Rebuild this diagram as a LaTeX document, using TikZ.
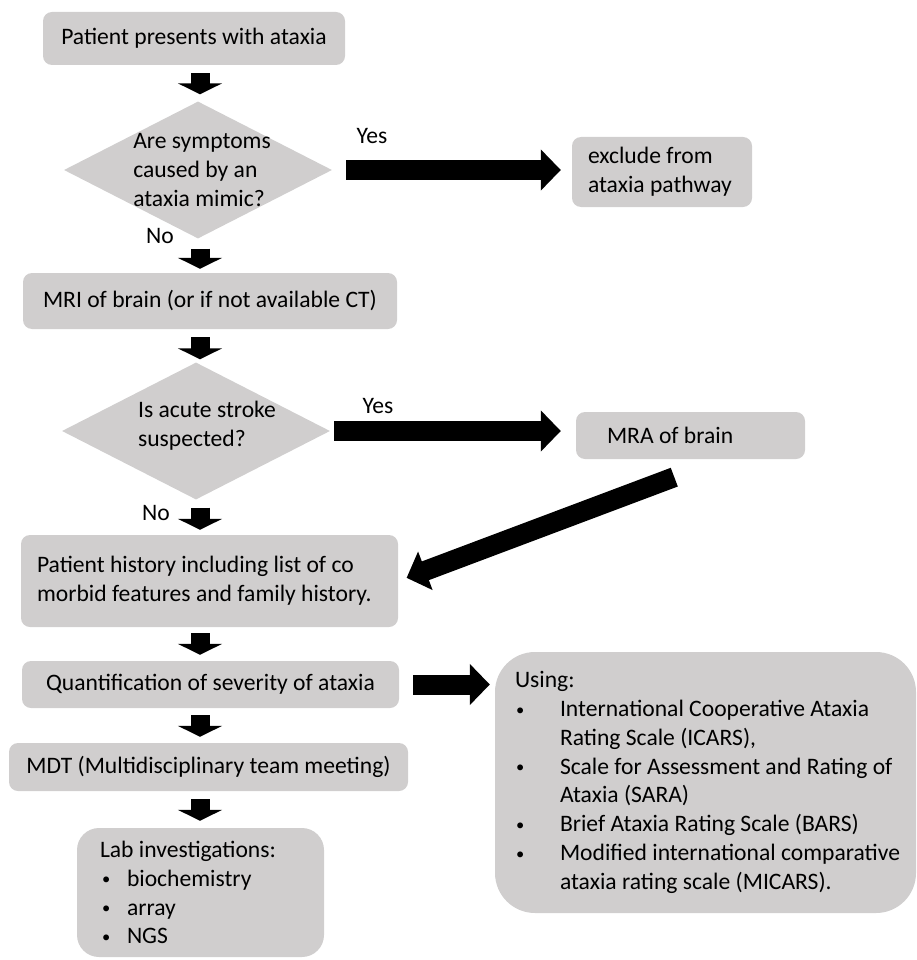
\documentclass[tikz,border=0pt]{standalone}
\usepackage{fontspec}
\usepackage{graphicx}
\setmainfont{Carlito}
\usetikzlibrary{shapes.geometric,arrows.meta}
\definecolor{boxgray}{HTML}{D0CECE}
\newcommand{\smallbullet}{\raisebox{1.5pt}{\scalebox{0.7}{\textbullet}}}
\newcommand{\labitem}{\makebox[27pt][l]{\hspace{2pt}\smallbullet}}
\newcommand{\scaleitem}{\makebox[45pt][l]{\hspace{1pt}\smallbullet}}
\tikzset{
  stepbox/.style={fill=boxgray,rounded corners=9pt,inner sep=0pt},
  decision/.style={diamond,fill=boxgray,inner sep=0pt,
    minimum width=268pt,minimum height=137pt},
  downarrow/.style={line width=19pt,-{Triangle[length=11pt,width=44pt]}},
  bigarrow/.style={line width=20pt,-{Triangle[length=20pt,width=40pt]}},
}
\begin{document}
\begin{tikzpicture}[x=1pt,y=-1pt,
    every node/.style={font=\fontsize{23.6pt}{28.8pt}\selectfont}]
    \useasboundingbox (0,0) rectangle (917,960);
    \begin{scope}
      \coordinate (spine) at (200,0);

      \node[stepbox,minimum width=302pt,minimum height=53pt] (start) at (194,38.5) {Patient presents with ataxia};

      \node[decision,label={[xshift=4pt,align=flush left]center:Are symptoms\\caused by an\\ataxia mimic?}] (mimic) at (198,170) {};
      \node[stepbox,text width=148pt,inner xsep=16pt,minimum height=70pt,align=flush left] (exclude) at (662,172) {exclude from\\ataxia pathway};
      \node (yes1) at (372,136) {Yes};
      \node (no1) at (160,236) {No};

      \node[stepbox,minimum width=374pt,minimum height=56pt] (mri) at (210,301) {MRI of brain (or if not available CT)};

      \node[decision,label={[xshift=11pt,yshift=5pt,align=flush left]center:Is acute stroke\\suspected?}] (stroke) at (196,431) {};
      \node[stepbox,text width=167pt,inner xsep=31pt,minimum height=47pt,align=flush left] (mra) at (690.5,435.5) {MRA of brain};
      \node (yes2) at (378,406) {Yes};
      \node (no2) at (156,513) {No};

      \node[stepbox,text width=345pt,inner xsep=16pt,minimum height=92pt,align=flush left] (history) at (209.5,581) {Patient history including list of co\\morbid features and family history.};
      \node[stepbox,minimum width=377pt,minimum height=47pt] (severity) at (210.5,684.5) {Quantification of severity of ataxia};
      \node[stepbox,minimum width=399pt,minimum height=48pt] (mdt) at (208.5,767) {MDT (Multidisciplinary team meeting)};

      \node[stepbox,rounded corners=22pt,text width=201pt,inner xsep=23pt,minimum height=129pt,align=flush left] (lab) at (200.5,892.5) {Lab investigations:\\\labitem biochemistry\\\labitem array\\\labitem NGS};

      \node[stepbox,rounded corners=40pt,text width=381pt,inner xsep=20pt,minimum height=261pt,align=flush left] (scales) at (705.5,782.5) {Using:\\
        \scaleitem International Cooperative Ataxia\\
        \hspace*{45pt}Rating Scale (ICARS),\\
        \scaleitem \mbox{Scale for Assessment and Rating of}\\
        \hspace*{45pt}Ataxia (SARA)\\
        \scaleitem Brief Ataxia Rating Scale (BARS)\\
        \scaleitem \mbox{Modified international comparative}\\
        \hspace*{45pt}ataxia rating scale (MICARS).};

      \path[draw,downarrow,shorten <=8pt,shorten >=7pt] (start.south -| spine) -- (mimic.north -| spine);
      \path[draw,downarrow,shorten <=10pt,shorten >=4pt] (mimic.south -| spine) -- (mri.north -| spine);
      \path[draw,downarrow,shorten <=8pt,shorten >=3pt] (mri.south -| spine) -- (stroke.north -| spine);
      \path[draw,downarrow,shorten <=8pt,shorten >=5pt] (stroke.south -| spine) -- (history.north -| spine);
      \path[draw,downarrow,shorten <=6pt,shorten >=6pt] (history.south -| spine) -- (severity.north -| spine);
      \path[draw,downarrow,shorten <=7pt,shorten >=6pt] (severity.south -| spine) -- (mdt.north -| spine);
      \path[draw,downarrow,shorten <=8pt,shorten >=7pt] (mdt.south -| spine) -- (lab.north -| spine);

      \path[draw,bigarrow,shorten <=14pt,shorten >=11pt] (mimic.east) -- (mimic.east -| exclude.west);
      \path[draw,bigarrow,shorten <=4pt,shorten >=15pt] (stroke.east) -- (stroke.east -| mra.west);
      \path[draw,bigarrow,shorten <=51pt,shorten >=9pt] ([xshift=31.5pt]mra.south) -- (history.east);
      \path[draw,bigarrow,shorten <=14pt,shorten >=5pt] (severity.east) -- (severity.east -| scales.west);
    \end{scope}
  \end{tikzpicture}
\end{document}
